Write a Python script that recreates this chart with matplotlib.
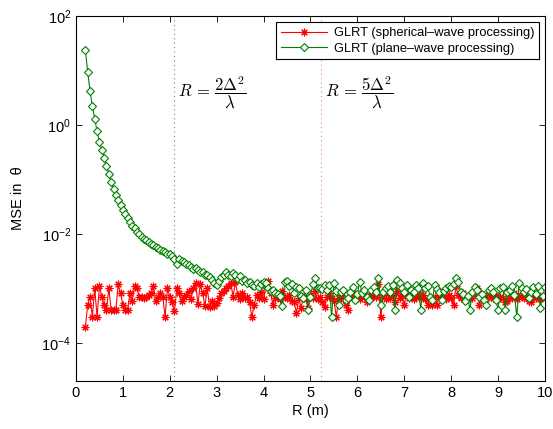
import numpy as np
import matplotlib
matplotlib.use("Agg")
import matplotlib.pyplot as plt

plt.rcParams['font.family'] = ['Liberation Sans', 'DejaVu Sans']
plt.rcParams['mathtext.fontset'] = 'cm'

# range axis (m), 0.2 : 0.05 : 10
r_start, r_stop = 0.2, 10.0

# MSE of theta, spherical-wave GLRT (10 values per row)
mse_spherical = [
    2.0e-4, 5.0e-4, 7.1e-4, 3.0e-4, 1.0e-3, 3.0e-4, 1.1e-3, 7.1e-4, 5.0e-4, 4.0e-4,
    1.0e-3, 4.0e-4, 4.0e-4, 4.0e-4, 1.2e-3, 8.1e-4, 5.0e-4, 4.0e-4, 4.0e-4, 8.1e-4,
    6.0e-4, 1.1e-3, 1.0e-3, 7.1e-4, 7.1e-4, 6.8e-4, 7.1e-4, 7.6e-4, 8.1e-4, 1.1e-3,
    6.0e-4, 7.1e-4, 8.1e-4, 7.1e-4, 3.0e-4, 1.0e-3, 7.1e-4, 5.6e-4, 3.8e-4, 1.0e-3,
    8.1e-4, 6.0e-4, 7.1e-4, 7.6e-4, 9.0e-4, 6.3e-4, 1.0e-3, 1.25e-3, 5.2e-4, 1.2e-3,
    8.1e-4, 4.8e-4, 1.0e-3, 4.5e-4, 6.0e-4, 4.8e-4, 5.5e-4, 6.6e-4, 8.1e-4, 8.9e-4,
    1.0e-3, 1.1e-3, 1.25e-3, 7.1e-4, 1.3e-3, 7.6e-4, 6.3e-4, 8.1e-4, 6.6e-4, 7.1e-4,
    5.6e-4, 3.0e-4, 5.0e-4, 7.6e-4, 6.6e-4, 8.5e-4, 6.3e-4, 1.1e-3, 1.35e-3, 8.1e-4,
    5.0e-4, 6.6e-4, 7.6e-4, 6.3e-4, 8.9e-4, 7.1e-4, 6.6e-4, 7.6e-4, 6.0e-4, 5.6e-4,
    3.6e-4, 6.6e-4, 4.4e-4, 7.1e-4, 6.3e-4, 4.4e-4, 7.6e-4, 6.6e-4, 8.9e-4, 6.3e-4,
    7.1e-4, 5.6e-4, 4.6e-4, 7.1e-4, 8.1e-4, 6.6e-4, 6.0e-4, 3.0e-4, 6.6e-4, 7.6e-4,
    6.3e-4, 5.0e-4, 4.1e-4, 7.1e-4, 8.1e-4, 6.6e-4, 7.6e-4, 6.3e-4, 8.5e-4, 7.1e-4,
    5.6e-4, 7.6e-4, 6.6e-4, 8.1e-4, 7.1e-4, 1.2e-3, 3.0e-4, 7.6e-4, 6.3e-4, 8.1e-4,
    6.6e-4, 7.6e-4, 5.6e-4, 8.9e-4, 6.6e-4, 7.6e-4, 5.0e-4, 8.1e-4, 6.6e-4, 7.6e-4,
    6.3e-4, 7.1e-4, 8.1e-4, 6.6e-4, 7.6e-4, 6.3e-4, 5.0e-4, 6.6e-4, 5.0e-4, 7.1e-4,
    5.0e-4, 7.6e-4, 6.6e-4, 8.1e-4, 6.3e-4, 7.6e-4, 6.6e-4, 5.0e-4, 1.1e-3, 7.6e-4,
    6.6e-4, 8.1e-4, 7.1e-4, 6.3e-4, 7.6e-4, 6.6e-4, 8.1e-4, 1.0e-3, 5.0e-4, 6.6e-4,
    7.6e-4, 6.3e-4, 8.1e-4, 7.1e-4, 6.6e-4, 7.6e-4, 6.3e-4, 7.1e-4, 6.6e-4, 5.6e-4,
    6.0e-4, 7.6e-4, 6.6e-4, 8.1e-4, 6.3e-4, 7.1e-4, 7.6e-4, 6.6e-4, 8.1e-4, 6.0e-4,
    5.6e-4, 7.1e-4, 6.6e-4, 7.6e-4, 6.3e-4, 7.1e-4, 6.6e-4,
]

# MSE of theta, plane-wave GLRT (10 values per row)
mse_plane = [
    24, 9.3, 4.2, 2.2, 1.3, 0.76, 0.49, 0.35, 0.25, 0.18,
    0.126, 0.089, 0.068, 0.052, 0.042, 0.034, 0.028, 0.0234, 0.020, 0.0166,
    0.0141, 0.0126, 0.011, 0.0098, 0.0089, 0.0081, 0.0076, 0.0071, 0.0066, 0.0063,
    0.0058, 0.0055, 0.0051, 0.0049, 0.0046, 0.0043, 0.0042, 0.0039, 0.0035, 0.0028,
    0.0034, 0.0032, 0.0030, 0.0028, 0.0027, 0.0025, 0.0023, 0.0024, 0.0022, 0.0020,
    0.00204, 0.0018, 0.00174, 0.0016, 0.0014, 0.00126, 0.00115, 0.00138, 0.0016, 0.0018,
    0.0020, 0.0018, 0.00166, 0.0019, 0.00174, 0.0015, 0.00166, 0.00138, 0.00145, 0.00126,
    0.00132, 0.00117, 0.00112, 0.00126, 0.00107, 0.0012, 0.00132, 0.00126, 0.0010, 0.00091,
    0.00095, 0.00083, 0.00079, 0.00072, 0.00047, 0.00132, 0.00138, 0.00112, 0.0012, 0.00081,
    0.00105, 0.00100, 0.00072, 0.00066, 0.00093, 0.00041, 0.00071, 0.00120, 0.00155, 0.00100,
    0.00100, 0.00098, 0.00115, 0.00093, 0.00115, 0.00030, 0.00126, 0.00090, 0.00050, 0.00087,
    0.00093, 0.00062, 0.00066, 0.00085, 0.00107, 0.00062, 0.00080, 0.00132, 0.00081, 0.00093,
    0.00071, 0.00062, 0.00095, 0.00105, 0.00085, 0.00155, 0.00050, 0.00087, 0.00100, 0.00110,
    0.00085, 0.00115, 0.00041, 0.00141, 0.00126, 0.00100, 0.00087, 0.00115, 0.00071, 0.00093,
    0.00085, 0.00115, 0.00100, 0.00041, 0.00126, 0.00100, 0.00110, 0.00070, 0.00062, 0.00115,
    0.00098, 0.00085, 0.00062, 0.00090, 0.00100, 0.00112, 0.00105, 0.00120, 0.00155, 0.00132,
    0.00087, 0.00080, 0.00058, 0.00072, 0.00041, 0.00085, 0.00105, 0.00093, 0.00071, 0.00078,
    0.00062, 0.00050, 0.00093, 0.00100, 0.00085, 0.00062, 0.00041, 0.00100, 0.00105, 0.00041,
    0.00087, 0.00093, 0.00110, 0.00075, 0.00030, 0.00126, 0.00100, 0.00087, 0.00098, 0.00066,
    0.00085, 0.00105, 0.00078, 0.00110, 0.00044, 0.00072, 0.00105,
]

# 2*Delta^2/lambda and 5*Delta^2/lambda (m)
r_marks = [2.09, 5.225]
mark_labels = [r'$R\,=\,\dfrac{2\Delta^2}{\lambda}$', r'$R\,=\,\dfrac{5\Delta^2}{\lambda}$']
mark_colors = ['#808080', '#f08080']

legend_labels = ['GLRT (spherical\u2013wave processing)', 'GLRT (plane\u2013wave processing)']

R = np.linspace(r_start, r_stop, len(mse_plane))

fig = plt.figure(figsize=(5.53, 4.29), dpi=100)
ax = fig.add_axes([0.1374, 0.1119, 0.8481, 0.8508])

ax.semilogy(R, mse_spherical, color='red', lw=0.8, marker=(8, 2, 0), ms=5.5,
            mew=0.8, label=legend_labels[0])
ax.semilogy(R, mse_plane, color=(0, 0.5, 0), lw=0.8, marker='D', ms=4.2,
            mfc='white', mew=0.8, label=legend_labels[1])

for rm, lab, c in zip(r_marks, mark_labels, mark_colors):
    ax.axvline(rm, color=c, ls=(0, (1, 3)), lw=0.8, zorder=1)
    ax.text(rm + 0.08, 3.9, lab, fontsize=12, va='center', ha='left')

ax.set_xlim(0, 10)
ax.set_ylim(2e-5, 100)
ax.set_xticks(range(0, 11))
ax.set_yticks([1e-4, 1e-2, 1e0, 1e2])
ax.minorticks_off()
ax.tick_params(direction='in', top=True, right=True, length=4, width=0.6,
               labelsize=10.5, colors='black')
for s in ax.spines.values():
    s.set_linewidth(0.8)

ax.set_xlabel('R (m)', fontsize=10.5, labelpad=3)
ax.set_ylabel('MSE in  \u03b8', fontsize=10.5, labelpad=12)

leg = ax.legend(loc='upper right', fontsize=9.3, handlelength=3.6, fancybox=False,
                edgecolor='black', framealpha=1, borderaxespad=0.5,
                borderpad=0.35, labelspacing=0.3, handletextpad=0.5)
leg.get_frame().set_linewidth(0.8)

fig.savefig('out.png', dpi=100)
